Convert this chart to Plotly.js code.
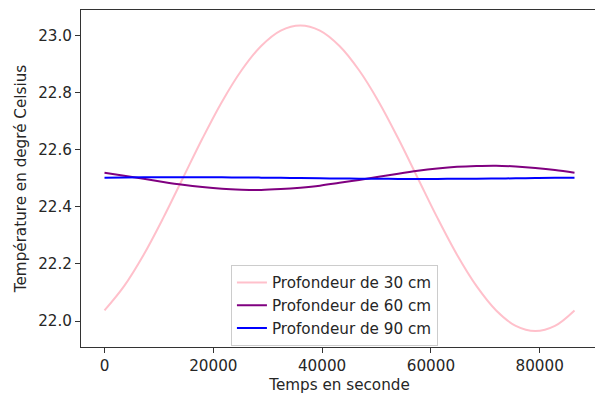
<!DOCTYPE html>
<html>
<head>
<meta charset="utf-8">
<script src="https://cdn.plot.ly/plotly-3.0.1.min.js"></script>
<style>
html, body { margin: 0; padding: 0; overflow: hidden; background: #fff; }
#chart { width: 600px; height: 394px; }
</style>
</head>
<body>
<div id="chart"></div>
<script>
// Time in seconds (one sample per hour over one day)
const temps = [0, 3600, 7200, 10800, 14400, 18000, 21600, 25200, 28800, 32400, 36000, 39600,
  43200, 46800, 50400, 54000, 57600, 61200, 64800, 68400, 72000, 75600, 79200, 82800, 86400];

// Temperatures (degrees Celsius)
const prof30 = [22.037, 22.122, 22.232, 22.361, 22.500, 22.639, 22.768, 22.878, 22.963, 23.017, 23.035, 23.017,
  22.963, 22.878, 22.768, 22.639, 22.500, 22.361, 22.232, 22.122, 22.037, 21.983, 21.965, 21.983, 22.037];
const prof60 = [22.5195, 22.509, 22.498, 22.487, 22.477, 22.469, 22.463, 22.460, 22.459, 22.462, 22.467, 22.474,
  22.484, 22.494, 22.505, 22.516, 22.526, 22.534, 22.540, 22.543, 22.544, 22.541, 22.536, 22.529, 22.5195];
const prof90 = [22.502, 22.5026, 22.5031, 22.5034, 22.5035, 22.5034, 22.5031, 22.5026, 22.502, 22.5013, 22.5005, 22.4997,
  22.499, 22.4984, 22.4979, 22.4976, 22.4975, 22.4976, 22.4979, 22.4984, 22.499, 22.4997, 22.5005, 22.5013, 22.502];

const noms = ["Profondeur de 30 cm", "Profondeur de 60 cm", "Profondeur de 90 cm"];
const xTicks = [0, 20000, 40000, 60000, 80000];
const xTickText = ["0", "20000", "40000", "60000", "80000"];
const yTicks = [22.0, 22.2, 22.4, 22.6, 22.8, 23.0];
const yTickText = ["22.0", "22.2", "22.4", "22.6", "22.8", "23.0"];

const font = { family: "DejaVu Sans, sans-serif", size: 15.2, color: "#262626" };

const traces = [
  { x: temps, y: prof30, name: noms[0], mode: "lines", line: { color: "pink", width: 2, shape: "spline" } },
  { x: temps, y: prof60, name: noms[1], mode: "lines", line: { color: "purple", width: 2, shape: "spline" } },
  { x: temps, y: prof90, name: noms[2], mode: "lines", line: { color: "blue", width: 2, shape: "spline" } }
];

const layout = {
  width: 600, height: 394,
  margin: { l: 81, r: 2, t: 10, b: 47 },
  paper_bgcolor: "#fff", plot_bgcolor: "#fff",
  font: font,
  showlegend: true,
  legend: {
    x: 0.29, y: 0.243, xanchor: "left", yanchor: "top",
    bgcolor: "rgba(255,255,255,0.8)", bordercolor: "#cccccc", borderwidth: 1,
    font: font, tracegroupgap: 0
  },
  xaxis: {
    range: [-4320, 90720],
    tickvals: xTicks, ticktext: xTickText,
    ticks: "outside", ticklen: 5, tickwidth: 1, tickcolor: "#333",
    showline: true, linecolor: "#333", linewidth: 1, mirror: true,
    showgrid: false, zeroline: false,
    title: { text: "Temps en seconde", font: font, standoff: 10 }
  },
  yaxis: {
    range: [21.909, 23.089],
    tickvals: yTicks, ticktext: yTickText,
    ticks: "outside", ticklen: 5, tickwidth: 1, tickcolor: "#333",
    showline: true, linecolor: "#333", linewidth: 1, mirror: true,
    showgrid: false, zeroline: false,
    title: { text: "Température en degré Celsius", font: font, standoff: 7 }
  }
};

Plotly.newPlot("chart", traces, layout, { displayModeBar: false, staticPlot: true });
</script>
</body>
</html>
